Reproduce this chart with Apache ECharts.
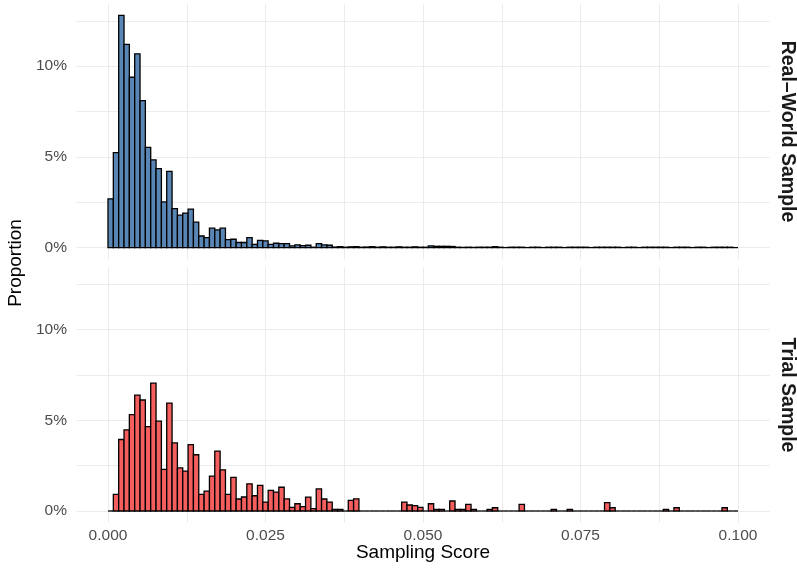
<!DOCTYPE html>
<html><head><meta charset="utf-8">
<script src="https://cdn.jsdelivr.net/npm/echarts@6/dist/echarts.min.js"></script>
<style>html,body{margin:0;padding:0;background:#fff}#c{width:797px;height:568px}</style>
</head><body><div id="c"></div>
<script>
// Histogram: 118 bins spanning Sampling Score 0 .. 0.1, values in percent
const binCount = 118;
const scoreMin = 0;
const scoreMax = 0.1;
const panelNames = ['Real\u2013World Sample', 'Trial Sample'];
const realWorld = [
  2.69, 5.24, 12.8, 11.2, 9.39, 10.68, 8.1, 5.52, 4.84, 4.35,
  2.52, 4.2, 2.15, 1.79, 1.9, 2.12, 1.4, 0.64, 0.55, 1.07,
  0.98, 1.07, 0.44, 0.46, 0.28, 0.28, 0.55, 0.18, 0.4, 0.37,
  0.18, 0.24, 0.22, 0.22, 0.09, 0.15, 0.11, 0.13, 0.02, 0.22,
  0.15, 0.13, 0.03, 0.05, 0.02, 0.04, 0.05, 0.02, 0.03, 0.05,
  0.02, 0.04, 0.02, 0.02, 0.04, 0.02, 0.02, 0.04, 0.02, 0.02,
  0.09, 0.07, 0.07, 0.07, 0.06, 0.02, 0.01, 0.02, 0.01, 0.02,
  0.02, 0.02, 0.05, 0.02, 0, 0.02, 0.02, 0.02, 0, 0.02,
  0.02, 0, 0.02, 0.02, 0.02, 0, 0.02, 0.02, 0.02, 0.02,
  0, 0.02, 0.02, 0.02, 0.02, 0.02, 0, 0.02, 0.02, 0,
  0.02, 0.02, 0.02, 0.02, 0.02, 0, 0.02, 0.02, 0.02, 0,
  0.02, 0.02, 0, 0.02, 0.02, 0.02, 0.02, 0
];
const trial = [
  0, 0.92, 3.94, 4.47, 5.31, 6.39, 6.12, 4.65, 7.05, 4.95,
  2.29, 5.95, 3.75, 2.38, 2.2, 3.66, 3.1, 0.92, 1.1, 1.92,
  3.3, 2.27, 0.92, 1.85, 0.66, 0.77, 1.5, 0.84, 1.41, 0.49,
  1.14, 1.04, 1.31, 0.67, 0.2, 0.4, 0.24, 0.76, 0.13, 1.22,
  0.66, 0.49, 0.09, 0.09, 0, 0.59, 0.67, 0, 0, 0,
  0, 0, 0, 0, 0, 0.49, 0.33, 0.3, 0.2, 0,
  0.4, 0.09, 0.09, 0, 0.55, 0.09, 0.09, 0.37, 0.09, 0,
  0, 0.09, 0.18, 0, 0, 0, 0, 0.37, 0, 0,
  0, 0, 0, 0.09, 0, 0, 0.09, 0, 0, 0,
  0, 0, 0, 0.46, 0.18, 0, 0, 0, 0, 0,
  0, 0, 0, 0, 0.09, 0, 0.18, 0, 0, 0,
  0, 0, 0, 0, 0, 0.18, 0, 0
];
const xLabelValues = [0, 0.025, 0.05, 0.075, 0.1];
const xGridValues = [0, 0.0125, 0.025, 0.0375, 0.05, 0.0625, 0.075, 0.0875, 0.1];
const yLabelValues = [0, 5, 10];
const yGridValues = [0, 2.5, 5, 7.5, 10, 12.5];
const xRange = [-0.005, 0.105];
const yRange = [-0.64, 13.44];
const fills = ['#5A86B6', '#F45E5E'];

const binWidth = (scoreMax - scoreMin) / binCount;
function toBins(vals) {
  return vals.map((v, i) => [scoreMin + i * binWidth, scoreMin + (i + 1) * binWidth, v]);
}

const fontFam = 'Liberation Sans, Arial, sans-serif';
const grids = [
  {left: 76.5, width: 693, top: 3.8, height: 255.4},
  {left: 76.5, width: 693, top: 267.2, height: 255.4}
];
const xAxes = grids.map((g, i) => ({
  type: 'value', gridIndex: i, min: xRange[0], max: xRange[1],
  axisLine: {show: false},
  axisTick: {show: false, customValues: xGridValues},
  splitLine: {show: true, lineStyle: {color: '#EBEBEB', width: 1}},
  axisLabel: {show: i === 1, customValues: xLabelValues, color: '#4D4D4D', fontSize: 15.5,
    fontFamily: fontFam, margin: 5,
    formatter: v => v.toFixed(3)}
}));
const yAxes = grids.map((g, i) => ({
  type: 'value', gridIndex: i, min: yRange[0], max: yRange[1],
  axisLine: {show: false},
  axisTick: {show: false, customValues: yGridValues},
  splitLine: {show: true, lineStyle: {color: '#EBEBEB', width: 1}},
  axisLabel: {customValues: yLabelValues, color: '#4D4D4D', fontSize: 15.5,
    fontFamily: fontFam, margin: 9.5,
    formatter: v => v + '%'}
}));

function makeRender(color) {
  return function (params, api) {
    const x0 = api.value(0), x1 = api.value(1), v = api.value(2);
    const p0 = api.coord([x0, 0]);
    const p1 = api.coord([x1, v]);
    if (v <= 0) {
      return {type: 'line', shape: {x1: p0[0], y1: p0[1], x2: p1[0], y2: p0[1]},
        style: {stroke: '#000', lineWidth: 1.3}};
    }
    return {type: 'rect',
      shape: {x: p0[0], y: p1[1], width: p1[0] - p0[0], height: p0[1] - p1[1]},
      style: {fill: color, stroke: '#000', lineWidth: 1.3}};
  };
}

const series = [realWorld, trial].map((vals, i) => ({
  type: 'custom', xAxisIndex: i, yAxisIndex: i,
  renderItem: makeRender(fills[i]),
  encode: {x: [0, 1], y: 2},
  data: toBins(vals),
  clip: false,
  silent: true
}));

const chart = echarts.init(document.getElementById('c'), null, {renderer: 'canvas'});
chart.setOption({
  animation: false,
  backgroundColor: '#fff',
  grid: grids,
  xAxis: xAxes,
  yAxis: yAxes,
  series: series,
  graphic: [
    {type: 'text', x: 787, y: 131.5, rotation: -Math.PI / 2,
      style: {text: panelNames[0], fontSize: 19.5, fontWeight: 'bold', fill: '#1A1A1A',
        fontFamily: fontFam, align: 'center', verticalAlign: 'middle'}},
    {type: 'text', x: 787, y: 395, rotation: -Math.PI / 2,
      style: {text: panelNames[1], fontSize: 19.5, fontWeight: 'bold', fill: '#1A1A1A',
        fontFamily: fontFam, align: 'center', verticalAlign: 'middle'}},
    {type: 'text', x: 16, y: 263, rotation: Math.PI / 2,
      style: {text: 'Proportion', fontSize: 19, fill: '#000',
        fontFamily: fontFam, align: 'center', verticalAlign: 'middle'}},
    {type: 'text', x: 423, y: 553,
      style: {text: 'Sampling Score', fontSize: 19, fill: '#000',
        fontFamily: fontFam, align: 'center', verticalAlign: 'middle'}}
  ]
});
</script>
</body></html>
